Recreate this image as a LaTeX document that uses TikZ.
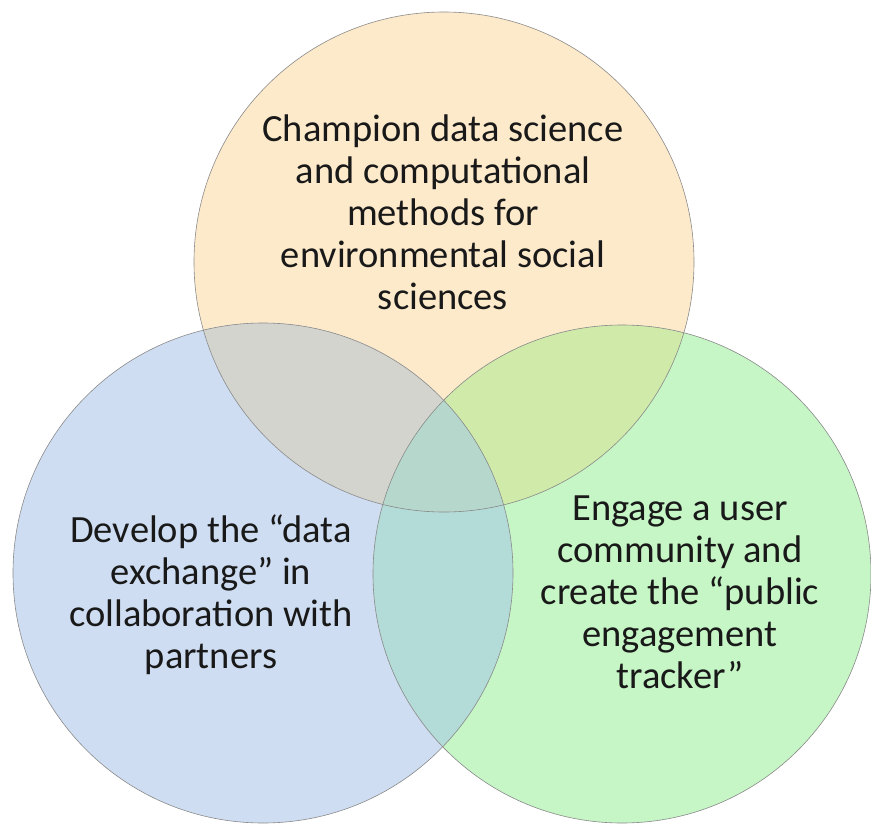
\documentclass[tikz,border=0pt]{standalone}
\usepackage{fontspec}
\setmainfont{Carlito}
\definecolor{cO}{HTML}{FDEACB}
\definecolor{cB}{HTML}{CEDDF1}
\definecolor{cG}{HTML}{C6F5C6}
\definecolor{cOB}{HTML}{D4D4CF}
\definecolor{cOG}{HTML}{D0EAAA}
\definecolor{cBG}{HTML}{B3DBD8}
\definecolor{cOBG}{HTML}{B6D8CC}
\definecolor{edge}{HTML}{8A8A8A}
\tikzset{
  lbl/.style={align=center, font=\fontsize{38.5}{42}\selectfont, text=black!90, inner sep=0pt},
  rim/.style={draw=edge, line width=0.6pt}
}
\newcommand{\cO}{(444,262) circle[radius=250]}
\newcommand{\cBl}{(263,573) circle[radius=250]}
\newcommand{\cGr}{(622,574) circle[radius=249]}
\begin{document}
\begin{tikzpicture}[x=1pt,y=-1pt]
\useasboundingbox (0,0) rectangle (871,825);
\fill[cO] \cO;
\fill[cB] \cBl;
\fill[cG] \cGr;
\begin{scope}\clip \cO; \fill[cOB] \cBl; \fill[cOG] \cGr; \end{scope}
\begin{scope}\clip \cBl; \fill[cBG] \cGr; \end{scope}
\begin{scope}\clip \cO; \clip \cBl; \fill[cOBG] \cGr; \end{scope}
\draw[rim] \cO;
\draw[rim] \cBl;
\draw[rim] \cGr;
\node[lbl] (top) at (443,212) {Champion data science\\and computational\\methods for\\environmental social\\sciences};
\node[lbl] (left) at (211,595) {Develop the “data\\exchange” in\\collaboration with\\partners};
\node[lbl] (right) at (680,592) {Engage a user\\community and\\create the “public\\engagement\\tracker”};
\end{tikzpicture}
\end{document}
